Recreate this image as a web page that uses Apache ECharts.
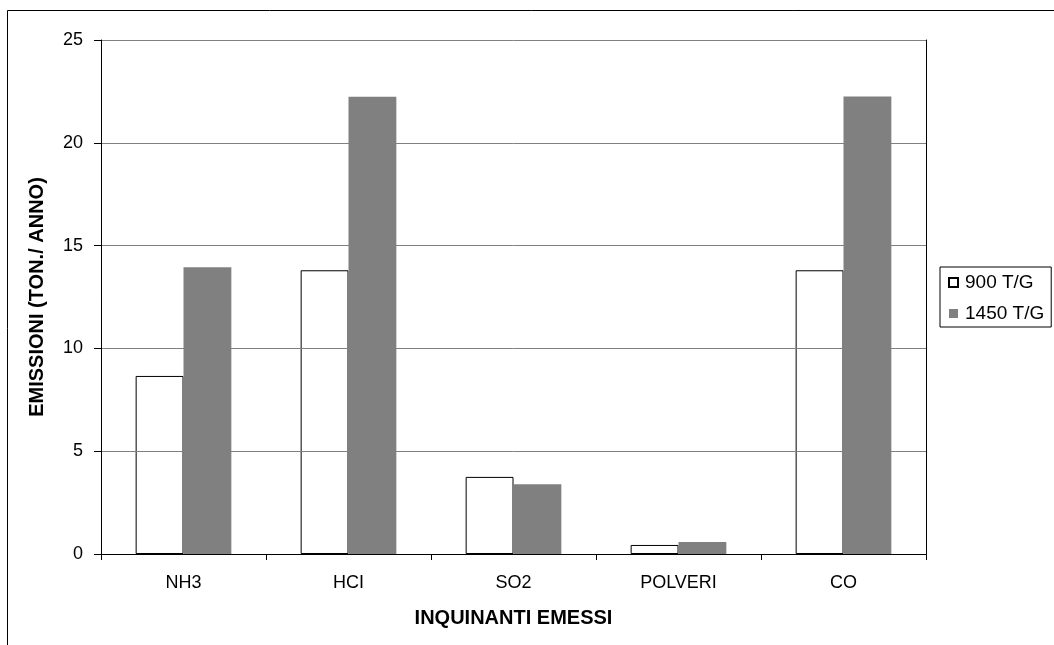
<!DOCTYPE html>
<html>
<head>
<meta charset="utf-8">
<script src="https://cdn.jsdelivr.net/npm/echarts@6/dist/echarts.min.js"></script>
<style>
  html, body { margin: 0; padding: 0; background: #fff; }
  #chart { width: 1054px; height: 645px; }
</style>
</head>
<body>
<div id="chart"></div>
<script>
// Pollutants emitted, tonnes per year, at two plant throughputs
var categories = ['NH3', 'HCI', 'SO2', 'POLVERI', 'CO'];
var series900 = [8.66, 13.8, 3.75, 0.44, 13.8];
var series1450 = [13.95, 22.24, 3.39, 0.58, 22.25];
var seriesNames = ['900 T/G', '1450 T/G'];
var yTicks = { min: 0, max: 25, step: 5 };

var FONT = '"Liberation Sans", Arial, sans-serif';

var chart = echarts.init(document.getElementById('chart'), null, { renderer: 'canvas' });

chart.setOption({
  backgroundColor: '#ffffff',
  animation: false,
  textStyle: { fontFamily: FONT, color: '#000' },
  graphic: [{
    type: 'rect',
    shape: { x: 7.5, y: 10.5, width: 1100, height: 700 },
    style: { fill: null, stroke: '#000', lineWidth: 1 },
    silent: true,
    z: 0
  }],
  grid: { left: 101, right: 128, top: 40, bottom: 91, containLabel: false },
  legend: {
    orient: 'vertical',
    left: 940,
    top: 267,
    padding: [6, 7, 4, 8],
    itemGap: 12,
    itemWidth: 9,
    itemHeight: 9,
    icon: 'rect',
    borderColor: '#000',
    borderWidth: 1,
    backgroundColor: '#fff',
    textStyle: { fontFamily: FONT, fontSize: 19, color: '#000', padding: [0, 0, 0, 2] },
    data: seriesNames
  },
  xAxis: [{
    type: 'category',
    data: categories,
    position: 'bottom',
    z: 5,
    name: 'INQUINANTI EMESSI',
    nameLocation: 'middle',
    nameGap: 54,
    nameTextStyle: { fontFamily: FONT, fontSize: 20, fontWeight: 'bold', color: '#000' },
    axisLine: { show: true, lineStyle: { color: '#000', width: 1 } },
    axisTick: { show: true, alignWithLabel: false, length: 6, inside: false, lineStyle: { color: '#000' } },
    axisLabel: { fontFamily: FONT, fontSize: 18, color: '#000', margin: 20 },
    splitLine: { show: false }
  }, {
    type: 'category',
    data: categories,
    position: 'top',
    z: 5,
    axisLine: { show: true, lineStyle: { color: '#000', width: 1 } },
    axisTick: { show: false },
    axisLabel: { show: false },
    splitLine: { show: false }
  }],
  yAxis: [{
    type: 'value',
    min: yTicks.min,
    max: yTicks.max,
    interval: yTicks.step,
    position: 'left',
    z: 5,
    name: 'EMISSIONI (TON./ ANNO)',
    nameLocation: 'middle',
    nameRotate: 90,
    nameGap: 54,
    nameTextStyle: { fontFamily: FONT, fontSize: 20, fontWeight: 'bold', color: '#000' },
    axisLine: { show: true, lineStyle: { color: '#000', width: 1 } },
    axisTick: { show: true, length: 7, inside: false, lineStyle: { color: '#000' } },
    axisLabel: { fontFamily: FONT, fontSize: 18, color: '#000', margin: 18 },
    splitLine: { show: true, lineStyle: { color: '#808080', width: 1 } }
  }, {
    type: 'value',
    min: yTicks.min,
    max: yTicks.max,
    interval: yTicks.step,
    position: 'right',
    z: 5,
    axisLine: { show: true, lineStyle: { color: '#000', width: 1 } },
    axisTick: { show: false },
    axisLabel: { show: false },
    splitLine: { show: false }
  }],
  series: [{
    name: seriesNames[0],
    type: 'bar',
    data: series900,
    barGap: '0%',
    barCategoryGap: '42%',
    z: 3,
    itemStyle: { color: '#ffffff', borderColor: '#000', borderWidth: 1 }
  }, {
    name: seriesNames[1],
    type: 'bar',
    data: series1450,
    barGap: '0%',
    barCategoryGap: '42%',
    z: 3,
    itemStyle: { color: '#808080', borderWidth: 0 }
  }]
});
</script>
</body>
</html>
